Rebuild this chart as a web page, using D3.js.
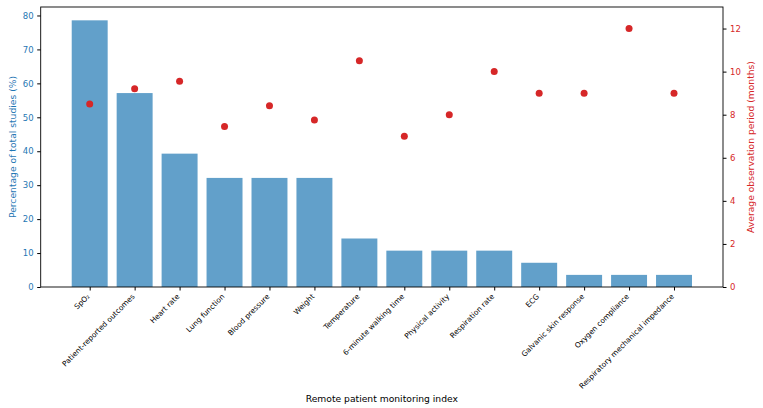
<!DOCTYPE html>
<html><head><meta charset="utf-8">
<script src="https://cdn.jsdelivr.net/npm/d3@7"></script>
<style>body{margin:0;background:#fff;} text{font-family:"DejaVu Sans",sans-serif;}</style>
</head><body>
<svg id="c" width="763" height="408"></svg>
<script>
const categories = ["SpO₂","Patient-reported outcomes","Heart rate","Lung function","Blood pressure","Weight","Temperature","6-minute walking time","Physical activity","Respiration rate","ECG","Galvanic skin response","Oxygen compliance","Respiratory mechanical impedance"];
const percentValues = [78.57,57.14,39.29,32.14,32.14,32.14,14.29,10.71,10.71,10.71,7.14,3.57,3.57,3.57];
const periodValues = [8.5,9.2,9.55,7.45,8.42,7.75,10.5,7,8,10,9,9,12,9];
const leftTicks = [0,10,20,30,40,50,60,70,80];
const rightTicks = [0,2,4,6,8,10,12];

const svg = d3.select("#c");
const L = 40.7, R = 723, T = 7, B = 287;
const n = categories.length;
const x = d3.scaleLinear().domain([-0.4 - 0.05*(n-0.2), (n-1)+0.4 + 0.05*(n-0.2)]).range([L, R]);
const yL = d3.scaleLinear().domain([0, 78.57*1.05]).range([B, T]);
const yR = d3.scaleLinear().domain([0, 13]).range([B, T]);
const unit = x(1) - x(0);

svg.append("g").selectAll("rect").data(percentValues).join("rect")
  .attr("x", (d,i) => x(i) - 0.4*unit).attr("width", 0.8*unit)
  .attr("y", d => yL(d)).attr("height", d => B - yL(d))
  .attr("fill", "#1f77b4").attr("fill-opacity", 0.7);

svg.append("g").selectAll("circle").data(periodValues).join("circle")
  .attr("cx", (d,i) => x(i)).attr("cy", d => yR(d)).attr("r", 3.5)
  .attr("fill", "#d62728");

// frame
svg.append("rect").attr("x", L).attr("y", T).attr("width", R-L).attr("height", B-T)
  .attr("fill", "none").attr("stroke", "#000").attr("stroke-width", 0.9);

// left axis
const gl = svg.append("g").attr("transform", `translate(${L},0)`)
  .call(d3.axisLeft(yL).tickValues(leftTicks).tickSize(3.5).tickPadding(3.5).tickFormat(d3.format("d")));
gl.select(".domain").remove();
gl.selectAll("text").attr("fill", "#1f77b4").style("font-size", "8.5px").style("font-family", "DejaVu Sans");

// right axis
const gr = svg.append("g").attr("transform", `translate(${R},0)`)
  .call(d3.axisRight(yR).tickValues(rightTicks).tickSize(3.5).tickPadding(3.5).tickFormat(d3.format("d")));
gr.select(".domain").remove();
gr.selectAll("text").attr("fill", "#d62728").style("font-size", "8.5px").style("font-family", "DejaVu Sans");

// bottom axis
const gb = svg.append("g").attr("transform", `translate(0,${B})`)
  .call(d3.axisBottom(x).tickValues(d3.range(n)).tickSize(3.5).tickFormat(i => categories[i]));
gb.select(".domain").remove();
gb.selectAll("text")
  .attr("text-anchor", "end").attr("dy", null).attr("y", null)
  .attr("transform", "translate(0,10) rotate(-45)")
  .attr("fill", "#000").style("font-size", "7.4px").style("font-family", "DejaVu Sans");

// axis labels
svg.append("text").attr("x", (L+R)/2).attr("y", 402).attr("text-anchor", "middle")
  .style("font-size", "9.2px").attr("fill", "#000").text("Remote patient monitoring index");
svg.append("text").attr("transform", `translate(16,${(T+B)/2}) rotate(-90)`).attr("text-anchor", "middle")
  .style("font-size", "9.2px").attr("fill", "#1f77b4").text("Percentage of total studies (%)");
svg.append("text").attr("transform", `translate(754,${(T+B)/2}) rotate(-90)`).attr("text-anchor", "middle")
  .style("font-size", "9.2px").attr("fill", "#d62728").text("Average observation period (months)");
</script>
</body></html>
